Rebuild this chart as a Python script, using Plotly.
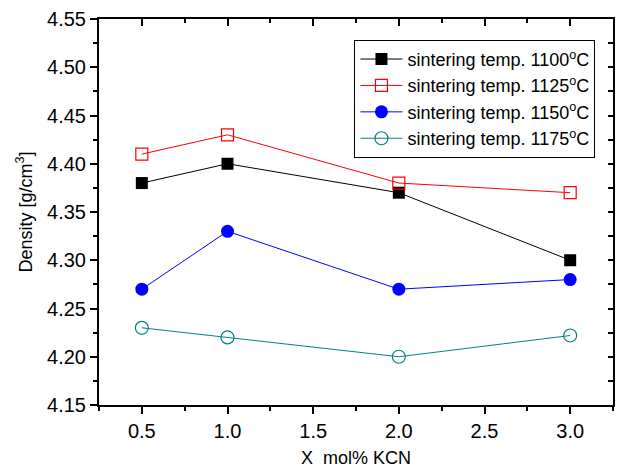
import plotly.graph_objects as go

x_vals = [0.5, 1.0, 2.0, 3.0]
d1100 = [4.38, 4.40, 4.37, 4.30]
d1125 = [4.41, 4.43, 4.38, 4.37]
d1150 = [4.27, 4.33, 4.27, 4.28]
d1175 = [4.23, 4.22, 4.20, 4.222]
names = ["sintering temp. 1100<sup>o</sup>C", "sintering temp. 1125<sup>o</sup>C",
         "sintering temp. 1150<sup>o</sup>C", "sintering temp. 1175<sup>o</sup>C"]
y_ticks = [4.15, 4.20, 4.25, 4.30, 4.35, 4.40, 4.45, 4.50, 4.55]
x_ticks = [0.5, 1.0, 1.5, 2.0, 2.5, 3.0]

FONT = "Arial, Liberation Sans, sans-serif"

fig = go.Figure()
fig.add_trace(go.Scatter(x=x_vals, y=d1100, name=names[0], mode="lines+markers",
                         line=dict(color="black", width=1),
                         marker=dict(symbol="square", size=12, color="black")))
fig.add_trace(go.Scatter(x=x_vals, y=d1125, name=names[1], mode="lines+markers",
                         line=dict(color="red", width=1),
                         marker=dict(symbol="square-open", size=12, color="red", line=dict(width=1.2))))
fig.add_trace(go.Scatter(x=x_vals, y=d1150, name=names[2], mode="lines+markers",
                         line=dict(color="blue", width=1),
                         marker=dict(symbol="circle", size=13, color="blue")))
fig.add_trace(go.Scatter(x=x_vals, y=d1175, name=names[3], mode="lines+markers",
                         line=dict(color="rgb(0,128,128)", width=1),
                         marker=dict(symbol="circle-open", size=13, color="rgb(0,128,128)", line=dict(width=1.2))))
# helper trace for mirrored top/right axes
fig.add_trace(go.Scatter(x=x_vals, y=d1100, xaxis="x2", yaxis="y2", mode="markers",
                         marker=dict(opacity=0), showlegend=False, hoverinfo="skip"))

common = dict(showgrid=False, zeroline=False, linecolor="black", linewidth=2,
              tickcolor="black", tickwidth=1.5, tickfont=dict(family=FONT, size=20, color="black"))

fig.update_layout(
    width=617, height=470,
    margin=dict(l=99, r=4, t=19, b=65),
    paper_bgcolor="white", plot_bgcolor="white",
    font=dict(family=FONT, size=18, color="black"),
    xaxis=dict(range=[0.25, 3.25], tickvals=x_ticks, ticktext=[f"{v:.1f}" for v in x_ticks],
               ticks="outside", ticklen=7, showline=True,
               minor=dict(dtick=0.25, tick0=0.25, ticks="outside", ticklen=4, tickcolor="black", tickwidth=1.5),
               title=dict(text="X  mol% KCN", font=dict(family=FONT, size=18), standoff=10),
               **common),
    yaxis=dict(range=[4.15, 4.55], tickvals=y_ticks, ticktext=[f"{v:.2f}" for v in y_ticks],
               ticks="outside", ticklen=7, showline=True,
               minor=dict(dtick=0.025, tick0=4.15, ticks="outside", ticklen=4, tickcolor="black", tickwidth=1.5),
               title=dict(text="Density [g/cm<sup>3</sup>]", font=dict(family=FONT, size=18), standoff=10),
               **common),
    xaxis2=dict(range=[0.25, 3.25], overlaying="x", side="top", tickvals=x_ticks, showticklabels=False,
                ticks="inside", ticklen=7, showline=True,
                minor=dict(dtick=0.25, tick0=0.25, ticks="inside", ticklen=4, tickcolor="black", tickwidth=1.5),
                **common),
    yaxis2=dict(range=[4.15, 4.55], overlaying="y", side="right", tickvals=y_ticks, showticklabels=False,
                ticks="inside", ticklen=5, showline=True,
                minor=dict(dtick=0.025, tick0=4.15, ticks="inside", ticklen=5, tickcolor="black", tickwidth=1.5),
                **common),
    legend=dict(x=0.497, y=0.946, xanchor="left", yanchor="top",
                bordercolor="black", borderwidth=1, bgcolor="white",
                font=dict(family=FONT, size=18, color="black"),
                tracegroupgap=0, itemwidth=42),
    showlegend=True,
)

fig.write_html("out.html")
